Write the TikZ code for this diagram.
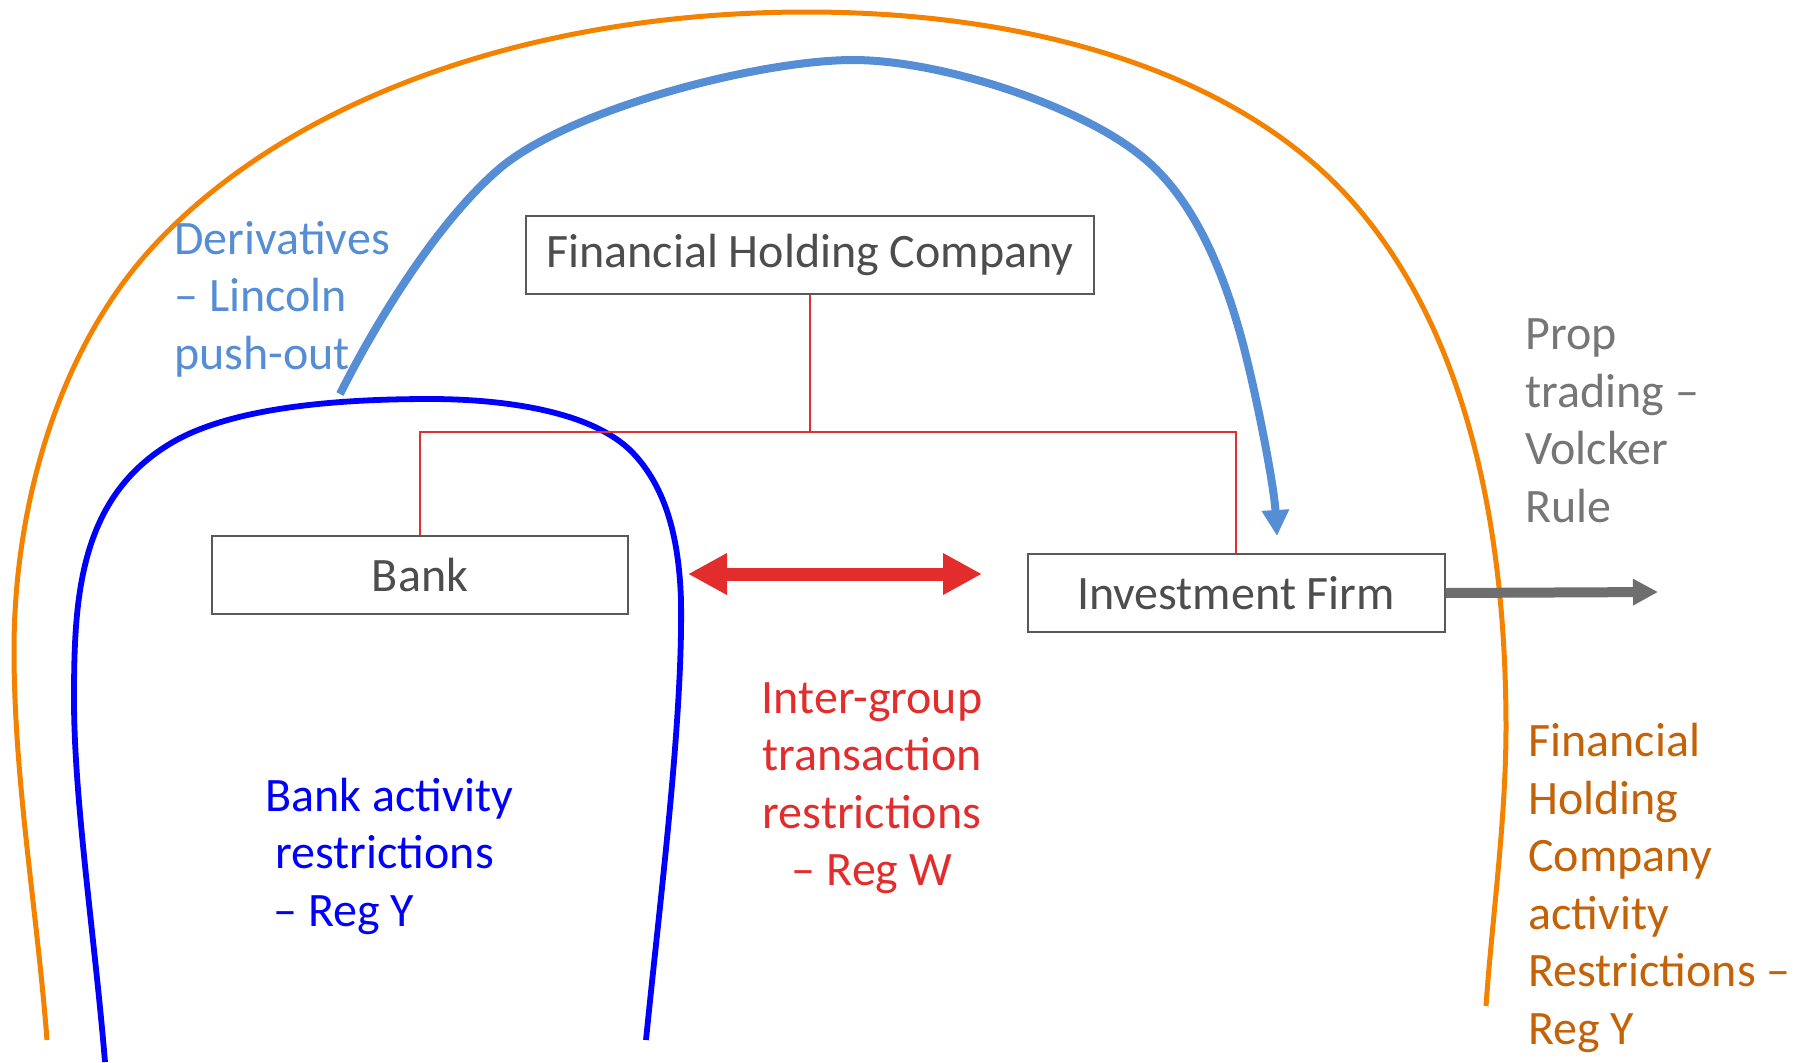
\documentclass[tikz,border=0pt]{standalone}
\usepackage{fontspec}
\setmainfont{Carlito}
\usetikzlibrary{arrows.meta}
\definecolor{boxline}{HTML}{595959}
\definecolor{boxtext}{HTML}{4D4D4D}
\definecolor{treered}{HTML}{E03030}
\definecolor{regwred}{HTML}{E32D2D}
\definecolor{lincolnblue}{HTML}{558ED5}
\definecolor{bankblue}{HTML}{0000FF}
\definecolor{fhcorange}{HTML}{F38200}
\definecolor{fhctext}{HTML}{C46208}
\definecolor{volckergray}{HTML}{767676}
\definecolor{proparrow}{HTML}{6E6E6E}
\newcommand{\slidefont}{\fontsize{24bp}{28.75bp}\selectfont}
\tikzset{
    firm/.style={draw=boxline, line width=1bp, text=boxtext, minimum height=39bp, inner sep=0pt, font=\slidefont},
    tree/.style={draw=treered, line width=0.8bp},
    note/.style={inner sep=0pt, align=left, font=\slidefont},
    fence/.style={line width=2.9bp, line cap=butt},
}

\begin{document}
\begin{tikzpicture}[x=0.5bp, y=-0.5bp]
    \useasboundingbox (0,0) rectangle (1796,1062);

    % Outer boundary: holding company
    \draw[fence, fhcorange, line width=2.5bp] (47,1040) .. controls (37,910) and (14,780) .. (14,650)
        .. controls (14,510) and (56,354) .. (150,250)
        .. controls (284,102) and (527,12) .. (807,12)
        .. controls (1027,12) and (1240,70) .. (1357,207)
        .. controls (1474,344) and (1506,547) .. (1506,727)
        .. controls (1506,820) and (1492,920) .. (1486,1006);

    % Inner boundary: bank
    \draw[fence, bankblue] (105,1062) .. controls (95,940) and (74,800) .. (74,700)
        .. controls (74,600) and (78,497) .. (173,442)
        .. controls (237,405) and (350,399) .. (430,399)
        .. controls (500,399) and (592,410) .. (633,453)
        .. controls (667,489) and (679,540) .. (681,600)
        .. controls (683,720) and (660,900) .. (646,1040);

    % Lincoln push-out
    \draw[lincolnblue, line width=4bp, -{Triangle[length=13bp, width=13bp]}] (340,394) .. controls (372,330) and (434,225) .. (499,169)
        .. controls (569,109) and (760,60) .. (853,60)
        .. controls (940,60) and (1078,105) .. (1140,155)
        .. controls (1195,198) and (1225,276) .. (1243,344)
        .. controls (1258,402) and (1274,486) .. (1277,536);

    % Entities
    \node[firm, minimum width=284bp] (fhc) at (810,255) {Financial Holding Company};
    \node[firm, minimum width=208bp] (bank) at (420,575) {Bank};
    \node[firm, minimum width=208.5bp] (inv) at (1236,593) {Investment Firm};

    % Ownership lines
    \coordinate (split) at (810,432);
    \draw[tree] (fhc.south) -- (split);
    \draw[tree] (split) -| (bank.north);
    \draw[tree] (split) -| (inv.north);

    % Reg W arrow
    \coordinate (regwL) at (688,574);
    \coordinate (regwR) at (982,574);
    \draw[regwred, line width=6.5bp, {Triangle[length=19.5bp, width=19.5bp]}-{Triangle[length=19.5bp, width=19.5bp]}] (regwL) -- (regwR);

    % Volcker arrow
    \coordinate (propend) at (1658,592);
    \draw[proparrow, line width=5bp, -{Triangle[length=12.5bp, width=12.5bp]}] (inv.east) -- (propend);

    % Labels
    \node[note, text=lincolnblue, anchor=west] (lincoln) at (174,299) {Derivatives\\– Lincoln\\push-out};
    \node[note, text=volckergray, anchor=west] (volcker) at (1525,421) {Prop\\trading –\\Volcker\\Rule};
    \node[note, text=bankblue, anchor=west] (regy) at (265,856) {Bank activity\\\hspace*{5bp}restrictions\\\hspace*{4bp}– Reg Y};
    \node[note, text=regwred, align=center] (regw) at (872,788) {Inter-group\\transaction\\restrictions\\– Reg W};
    \node[note, text=fhctext, anchor=west] (fhcregy) at (1528,888) {Financial\\Holding\\Company\\activity\\Restrictions –\\Reg Y};
\end{tikzpicture}
\end{document}
